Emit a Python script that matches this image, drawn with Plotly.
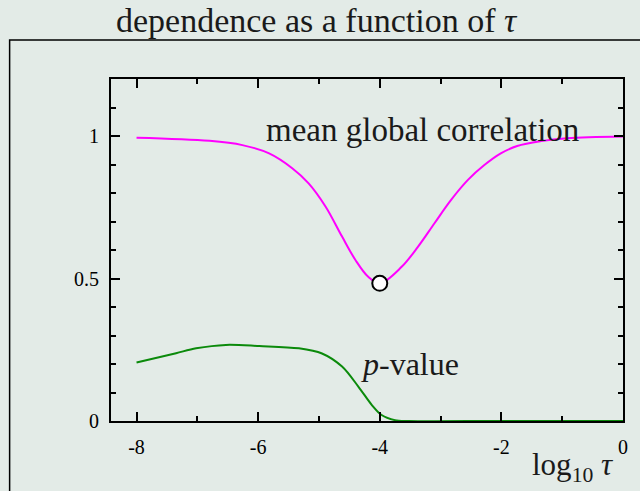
import plotly.graph_objects as go

# ── data ──
corr_x = [-8.0, -6.8, -6.26, -5.82, -5.44, -5.17, -4.89, -4.62, -4.40, -4.19, -4.0,
          -3.64, -3.37, -3.10, -2.83, -2.55, -2.28, -2.01, -1.74, -1.35, -0.92, 0.0]
corr_y = [0.994, 0.983, 0.968, 0.939, 0.887, 0.834, 0.752, 0.647, 0.565, 0.506, 0.483,
          0.541, 0.612, 0.694, 0.775, 0.846, 0.898, 0.939, 0.965, 0.982, 0.992, 0.998]

pval_x = [-8.0, -7.35, -7.02, -6.53, -5.98, -5.33, -4.95, -4.62, -4.35, -4.13, -3.97,
          -3.75, -3.53, -2.0, 0.0]
pval_y = [0.205, 0.238, 0.255, 0.267, 0.263, 0.255, 0.237, 0.191, 0.120, 0.056, 0.021,
          0.003, 0.0, 0.0, 0.0]

min_point_x = [-4.0]
min_point_y = [0.483]

x_tickvals = [-8, -6, -4, -2, 0]
x_ticktext = ['-8', '-6', '-4', '-2', '0']
y_tickvals = [0, 0.5, 1]
y_ticktext = ['0', '0.5', '1']

BG = '#e3ebe7'
SERIF = 'Liberation Serif, Times New Roman, serif'
INK = '#1a1a1a'

fig = go.Figure()
fig.add_trace(go.Scatter(
    x=corr_x, y=corr_y, mode='lines',
    line=dict(color='#ff00ff', width=2, shape='spline', smoothing=1.0),
    showlegend=False,
))
fig.add_trace(go.Scatter(
    x=pval_x, y=pval_y, mode='lines',
    line=dict(color='#0b8a0b', width=2, shape='spline', smoothing=0.9),
    showlegend=False,
))
fig.add_trace(go.Scatter(
    x=min_point_x, y=min_point_y, mode='markers',
    marker=dict(size=15, color='white', line=dict(color='black', width=2)),
    showlegend=False, cliponaxis=False,
))

axis_common = dict(
    showline=True, linecolor='black', linewidth=2, mirror='ticks',
    ticks='inside', ticklen=9, tickwidth=2, tickcolor='black',
    showgrid=False, zeroline=False,
    tickfont=dict(family=SERIF, size=20, color='black'),
)

fig.update_layout(
    width=640, height=491,
    paper_bgcolor=BG, plot_bgcolor=BG,
    margin=dict(l=111, r=14, t=79, b=70),
    xaxis=dict(
        range=[-8.42, 0], tickvals=x_tickvals, ticktext=x_ticktext,
        minor=dict(dtick=1, tick0=-8, ticks='inside', ticklen=5, tickwidth=2, tickcolor='black'),
        ticklabelstandoff=7,
        **axis_common,
    ),
    yaxis=dict(
        range=[0, 1.2], tickvals=y_tickvals, ticktext=y_ticktext,
        minor=dict(dtick=0.1, tick0=0, ticks='inside', ticklen=5, tickwidth=2, tickcolor='black'),
        ticklabelstandoff=6,
        **axis_common,
    ),
    shapes=[dict(
        type='rect', xref='paper', yref='paper',
        x0=-0.198, x1=1.06, y0=-0.26, y1=1.114,
        line=dict(color='black', width=1.5), layer='below',
    )],
    annotations=[
        dict(text='dependence as a function of <i>τ</i>', xref='paper', yref='paper',
             x=0.402, y=1.17, showarrow=False, xanchor='center', yanchor='middle',
             font=dict(family=SERIF, size=34, color=INK)),
        dict(text='mean global correlation', x=-3.30, y=1.02, showarrow=False,
             xanchor='center', yanchor='middle',
             font=dict(family=SERIF, size=33, color=INK)),
        dict(text='<i>p</i>-value', x=-3.51, y=0.2, showarrow=False,
             xanchor='center', yanchor='middle',
             font=dict(family=SERIF, size=32, color=INK)),
        dict(text='log<sub>10</sub> <i>τ</i>', xref='paper', yref='paper',
             x=0.986, y=-0.135, showarrow=False, xanchor='right', yanchor='middle',
             font=dict(family=SERIF, size=31, color=INK)),
    ],
)

fig.write_html(
    "out.html",
    config={'displayModeBar': False},
    post_script="document.body.style.margin='0';document.body.style.background='%s';" % BG,
)
